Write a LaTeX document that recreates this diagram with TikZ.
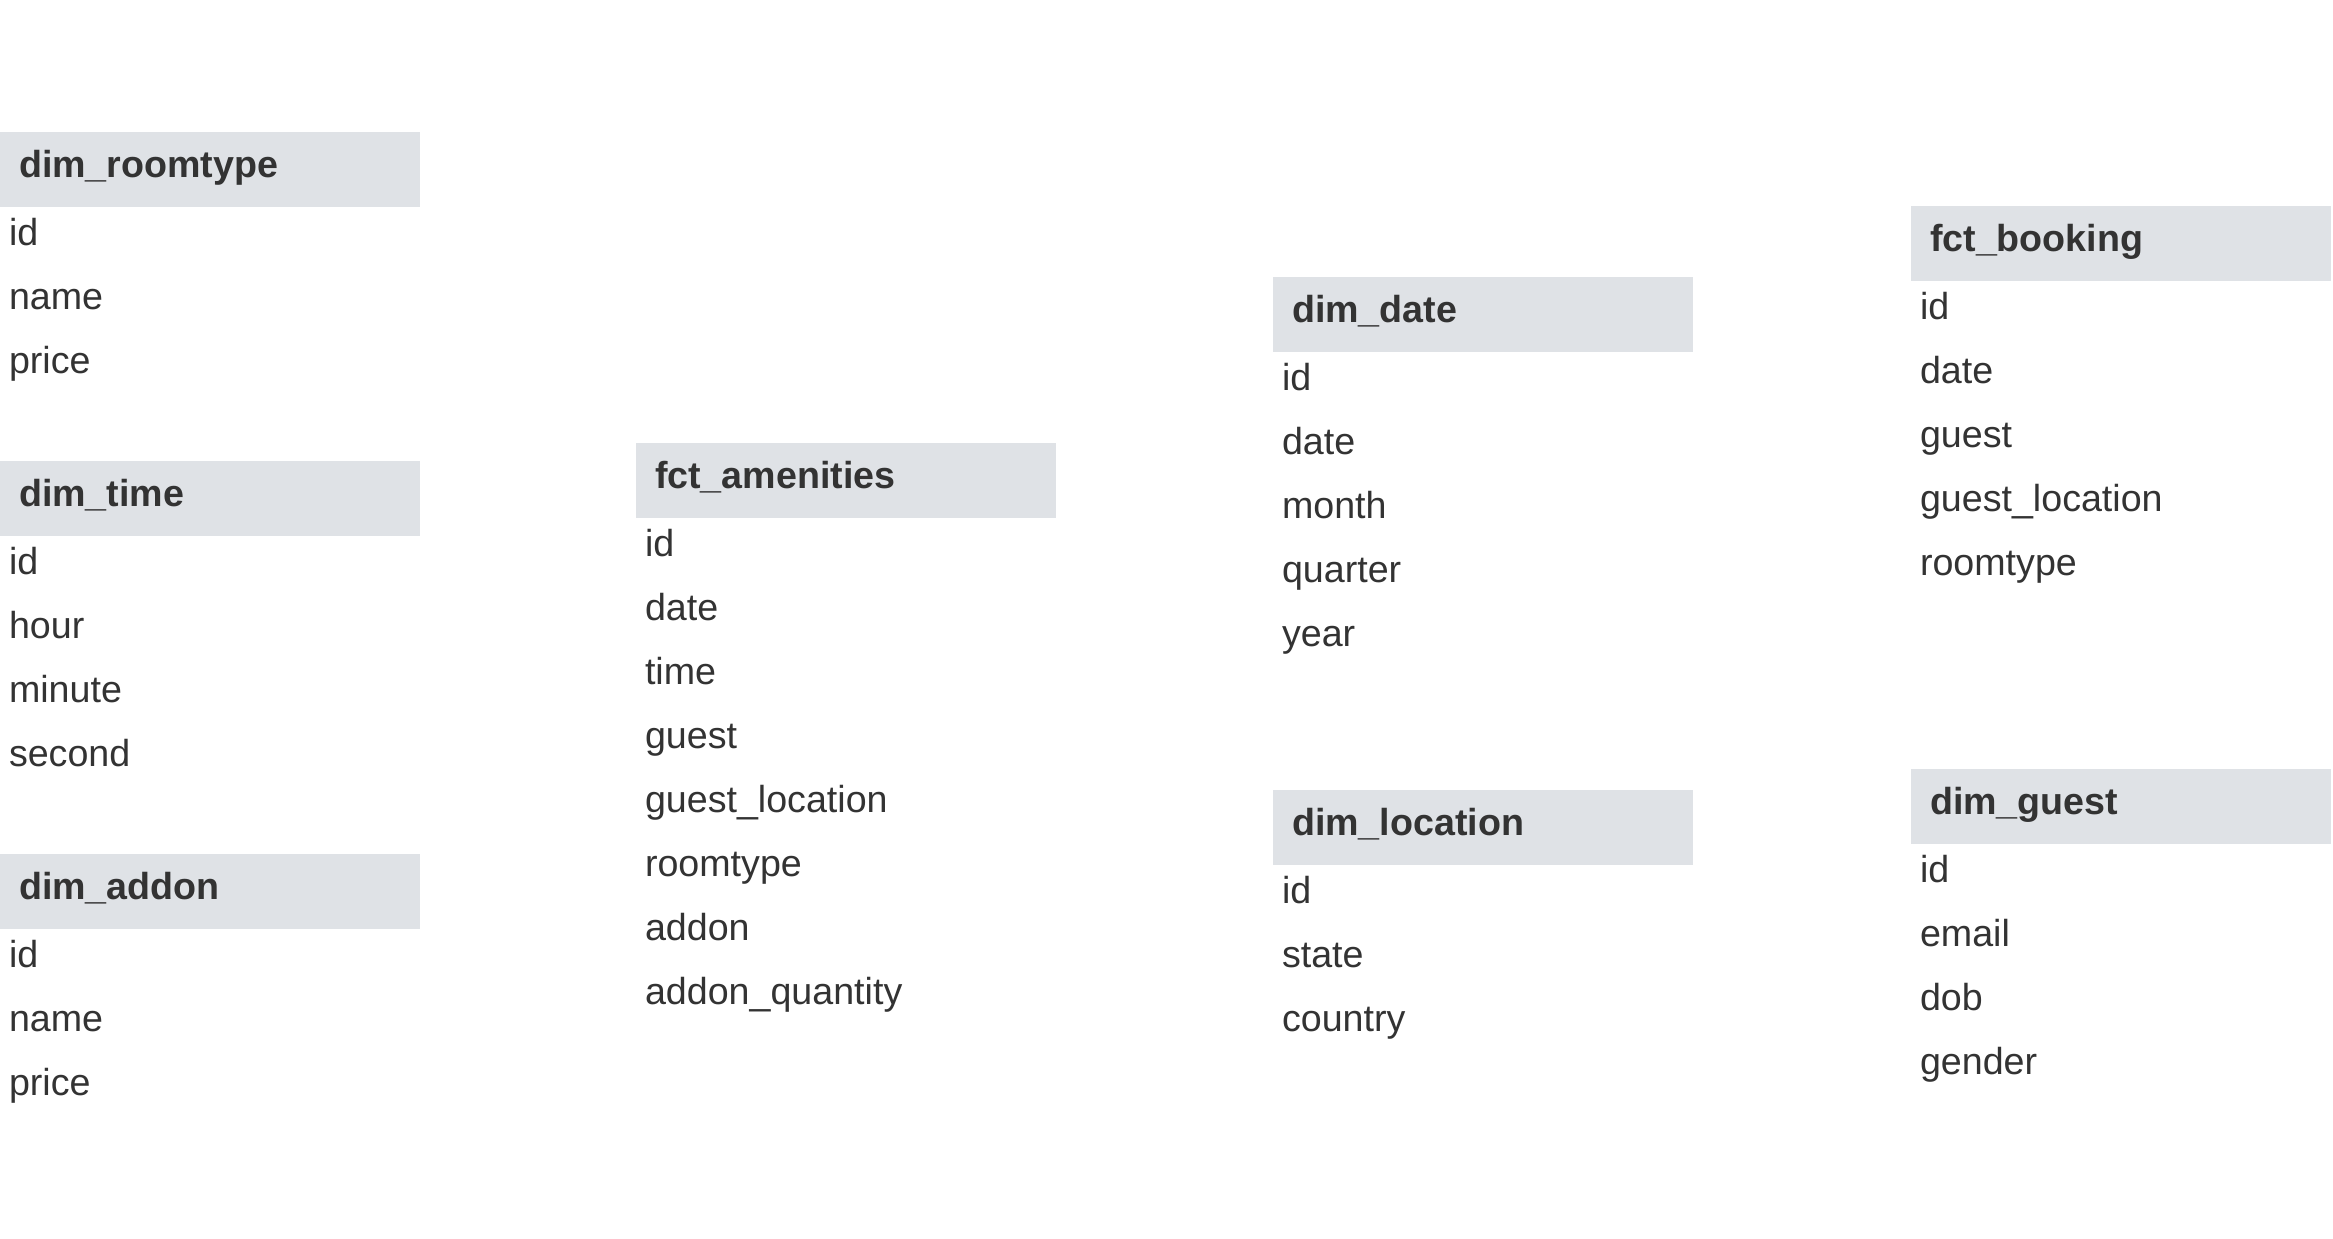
\documentclass[tikz,border=0pt]{standalone}
\usepackage{fontspec}
\setmainfont{Liberation Sans}
\usetikzlibrary{positioning}
\definecolor{ink}{HTML}{333333}
\definecolor{headfill}{HTML}{DFE2E6}
\tikzset{
  tablehead/.style={anchor=north west, fill=headfill, text=ink, outer sep=0pt, inner xsep=0.19cm, inner ysep=0pt, text width=3.82cm, align=left, text height=0.455cm, text depth=0.295cm, font=\fontsize{10.7pt}{12pt}\selectfont\bfseries},
  field/.style={text=ink, outer sep=0pt, inner xsep=0.09cm, inner ysep=0pt, text width=4.02cm, align=left, text height=0.38cm, text depth=0.26cm, font=\fontsize{10.7pt}{12pt}\selectfont}
}

\begin{document}
\begin{tikzpicture}[x=0.01cm, y=-0.01cm, node distance=0pt]
  \useasboundingbox (0,0) rectangle (2333,1238);

  % dimension tables on the left
  \node[tablehead] (roomtype) at (0,132) {dim\_roomtype};
  \node[field, below=of roomtype] (roomtype1) {id};
  \node[field, below=of roomtype1] (roomtype2) {name};
  \node[field, below=of roomtype2] (roomtype3) {price};

  \node[tablehead] (time) at (0,461) {dim\_time};
  \node[field, below=of time] (time1) {id};
  \node[field, below=of time1] (time2) {hour};
  \node[field, below=of time2] (time3) {minute};
  \node[field, below=of time3] (time4) {second};

  \node[tablehead] (addon) at (0,854) {dim\_addon};
  \node[field, below=of addon] (addon1) {id};
  \node[field, below=of addon1] (addon2) {name};
  \node[field, below=of addon2] (addon3) {price};

  % fact table for amenities
  \node[tablehead] (amenities) at (636,443) {fct\_amenities};
  \node[field, below=of amenities] (amenities1) {id};
  \node[field, below=of amenities1] (amenities2) {date};
  \node[field, below=of amenities2] (amenities3) {time};
  \node[field, below=of amenities3] (amenities4) {guest};
  \node[field, below=of amenities4] (amenities5) {guest\_location};
  \node[field, below=of amenities5] (amenities6) {roomtype};
  \node[field, below=of amenities6] (amenities7) {addon};
  \node[field, below=of amenities7] (amenities8) {addon\_quantity};

  % date and location
  \node[tablehead] (date) at (1273,277) {dim\_date};
  \node[field, below=of date] (date1) {id};
  \node[field, below=of date1] (date2) {date};
  \node[field, below=of date2] (date3) {month};
  \node[field, below=of date3] (date4) {quarter};
  \node[field, below=of date4] (date5) {year};

  \node[tablehead] (location) at (1273,790) {dim\_location};
  \node[field, below=of location] (location1) {id};
  \node[field, below=of location1] (location2) {state};
  \node[field, below=of location2] (location3) {country};

  % booking and guest
  \node[tablehead] (booking) at (1911,206) {fct\_booking};
  \node[field, below=of booking] (booking1) {id};
  \node[field, below=of booking1] (booking2) {date};
  \node[field, below=of booking2] (booking3) {guest};
  \node[field, below=of booking3] (booking4) {guest\_location};
  \node[field, below=of booking4] (booking5) {roomtype};

  \node[tablehead] (guest) at (1911,769) {dim\_guest};
  \node[field, below=of guest] (guest1) {id};
  \node[field, below=of guest1] (guest2) {email};
  \node[field, below=of guest2] (guest3) {dob};
  \node[field, below=of guest3] (guest4) {gender};
\end{tikzpicture}
\end{document}
